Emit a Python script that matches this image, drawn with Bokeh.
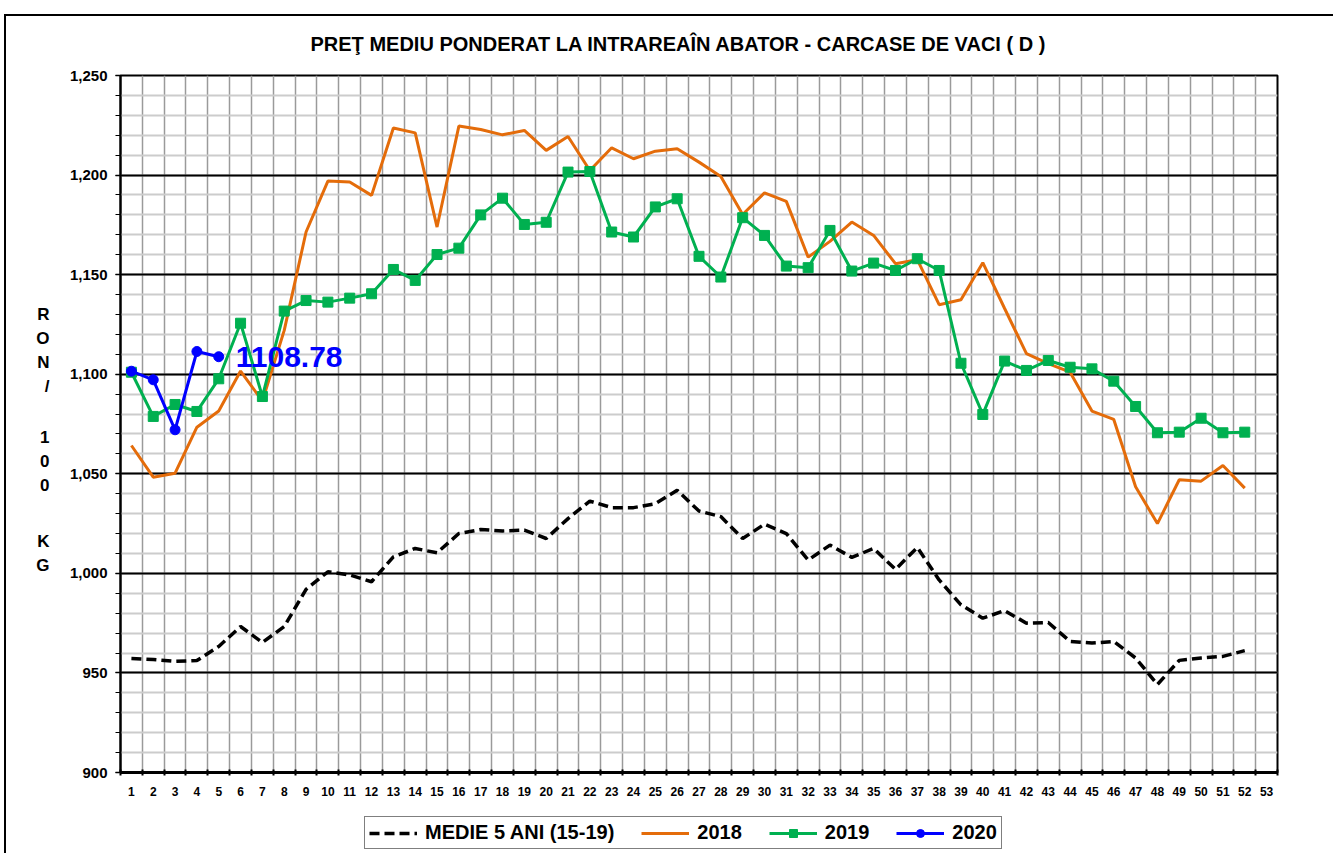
from bokeh.plotting import figure
from bokeh.layouts import column
from bokeh.models import (Range1d, FixedTicker, NumeralTickFormatter, Legend, LegendItem, Label,
                          LinearAxis)
from bokeh.embed import file_html
from bokeh.resources import INLINE

# ---------------- data ----------------
weeks = list(range(1, 53))
weeks_2020 = [1, 2, 3, 4, 5]
x_tick_labels = list(range(1, 54))

medie_5_ani = [957.2, 956.7, 955.8, 956.2, 963.3, 973.3, 965.3, 973.3, 992.0, 1000.8,
               999.2, 995.8, 1008.3, 1012.5, 1010.3, 1020.0, 1022.0, 1021.3, 1021.7, 1017.5,
               1027.5, 1036.3, 1033.0, 1033.0, 1035.0, 1041.7, 1031.3, 1028.5, 1017.5, 1024.7,
               1020.0, 1006.7, 1014.2, 1008.0, 1012.5, 1002.0, 1013.0, 996.7, 984.2, 977.5,
               981.3, 975.0, 975.3, 965.8, 965.0, 965.8, 957.5, 944.2, 956.3, 957.5, 958.3, 961.2]

y2018 = [1064.2, 1048.3, 1050.3, 1073.4, 1081.5, 1101.6, 1086.5, 1122.0, 1171.4, 1197.0,
         1196.5, 1189.8, 1223.6, 1221.2, 1173.9, 1224.6, 1222.9, 1220.2, 1222.4, 1212.4,
         1219.4, 1202.3, 1213.7, 1208.2, 1212.0, 1213.2, 1206.5, 1199.3, 1180.2, 1191.1,
         1186.8, 1158.8, 1166.7, 1176.4, 1169.7, 1155.5, 1157.5, 1134.9, 1137.4, 1156.0,
         1133.0, 1110.3, 1105.3, 1101.0, 1081.5, 1077.3, 1043.5, 1025.0, 1047.0, 1046.3, 1054.2, 1042.8]

y2019 = [1101.0, 1078.8, 1084.8, 1081.3, 1097.7, 1125.6, 1088.8, 1131.7, 1137.0, 1136.2,
         1138.2, 1140.4, 1152.6, 1147.1, 1160.1, 1163.3, 1180.0, 1188.4, 1175.2, 1176.3,
         1201.5, 1201.8, 1171.4, 1168.9, 1184.0, 1188.1, 1159.2, 1148.8, 1178.6, 1169.7,
         1154.3, 1153.5, 1172.2, 1151.8, 1155.8, 1152.1, 1158.0, 1152.1, 1105.5, 1079.8,
         1106.6, 1101.9, 1106.9, 1103.5, 1102.7, 1096.5, 1083.8, 1070.6, 1070.9, 1077.9, 1070.6, 1070.9]

y2020 = [1101.5, 1097.2, 1072.1, 1111.4, 1108.78]

series_names = ["MEDIE 5 ANI (15-19)", "2018", "2019", "2020"]
title_text = "PREŢ MEDIU PONDERAT LA INTRAREAÎN ABATOR - CARCASE DE VACI ( D )"
# stacked y-axis title "RON/ 100 KG", one character per line
y_title_chars = ["R", "O", "N", "/", "1", "0", "0", "K", "G"]
y_title_rows = [1130, 1118, 1106, 1094, 1068, 1056, 1044, 1016, 1004]

FONT = "Liberation Sans"
C_ORANGE = "#E46C0A"
C_GREEN = "#00B050"
C_BLUE = "#0000FF"

# ---------------- main figure ----------------
p = figure(width=1333, height=810, output_backend="svg", toolbar_location=None,
           x_range=Range1d(0.5, 53.5), y_range=Range1d(900, 1250),
           min_border_left=120, min_border_right=56, min_border_top=75, min_border_bottom=38)
p.background_fill_color = "white"
p.border_fill_alpha = 0
p.outline_line_color = "black"
p.outline_line_width = 2

# title
p.title.text = title_text
p.title.align = "left"
p.title.offset = 190
p.title.standoff = 42
p.title.text_font = FONT
p.title.text_font_style = "bold"
p.title.text_font_size = "20px"
p.title.text_color = "black"

# x axis
p.xaxis.ticker = FixedTicker(ticks=x_tick_labels, minor_ticks=[k + 0.5 for k in range(0, 54)])
p.xaxis.major_tick_line_color = None
p.xaxis.minor_tick_line_color = "black"
p.xaxis.minor_tick_line_width = 2
p.xaxis.minor_tick_in = 3
p.xaxis.minor_tick_out = 3
p.xaxis.axis_line_color = "black"
p.xaxis.axis_line_width = 3
p.xaxis.major_label_text_font = FONT
p.xaxis.major_label_text_font_style = "bold"
p.xaxis.major_label_text_font_size = "12px"
p.xaxis.major_label_text_color = "black"
p.xaxis.major_label_standoff = 8

# y axis
p.yaxis.ticker = FixedTicker(ticks=list(range(900, 1251, 50)), minor_ticks=list(range(900, 1251, 10)))
p.yaxis.formatter = NumeralTickFormatter(format="0,0")
p.yaxis.axis_line_color = "black"
p.yaxis.axis_line_width = 2
p.yaxis.major_tick_in = 0
p.yaxis.major_tick_out = 5
p.yaxis.minor_tick_in = 0
p.yaxis.minor_tick_out = 5
p.yaxis.major_tick_line_width = 1.5
p.yaxis.minor_tick_line_color = "black"
p.yaxis.major_label_text_font = FONT
p.yaxis.major_label_text_font_style = "bold"
p.yaxis.major_label_text_font_size = "15px"
p.yaxis.major_label_text_color = "black"
p.yaxis.major_label_standoff = 8

# stacked-letter y-axis title drawn as an extra, line-less axis
title_axis = LinearAxis(ticker=FixedTicker(ticks=y_title_rows, minor_ticks=[]),
                        major_label_overrides={r: c for r, c in zip(y_title_rows, y_title_chars)})
title_axis.axis_line_color = None
title_axis.major_tick_line_color = None
title_axis.minor_tick_line_color = None
title_axis.major_label_text_font = FONT
title_axis.major_label_text_font_style = "bold"
title_axis.major_label_text_font_size = "17px"
title_axis.major_label_text_color = "black"
title_axis.major_label_standoff = 11
p.add_layout(title_axis, "left")

# grids
p.xgrid.ticker = FixedTicker(ticks=[], minor_ticks=[k + 0.5 for k in range(0, 54)])
p.xgrid.grid_line_color = None
p.xgrid.minor_grid_line_color = "#9a9a9a"
p.xgrid.minor_grid_line_width = 1.5
p.ygrid.grid_line_color = "black"
p.ygrid.grid_line_width = 2
p.ygrid.minor_grid_line_color = "#cccccc"
p.ygrid.minor_grid_line_width = 2

# ---------------- series ----------------
p.line(weeks, medie_5_ani, line_color="black", line_width=3.5, line_dash="10 5")
p.line(weeks, y2018, line_color=C_ORANGE, line_width=3)
p.line(weeks, y2019, line_color=C_GREEN, line_width=3)
p.scatter(weeks, y2019, marker="square", size=10, fill_color=C_GREEN, line_color=C_GREEN)
p.line(weeks_2020, y2020, line_color=C_BLUE, line_width=3)
p.scatter(weeks_2020, y2020, marker="circle", size=10, fill_color=C_BLUE, line_color=C_BLUE)

# last value label
p.add_layout(Label(x=weeks_2020[-1], y=y2020[-1], text=f"{y2020[-1]:.2f}", x_offset=17,
                   text_baseline="middle", text_align="left", text_color=C_BLUE,
                   text_font=FONT, text_font_style="bold", text_font_size="30px"))

# ---------------- legend strip (separate figure so it is not clipped) ----------------
q = figure(width=1333, height=43, output_backend="svg", toolbar_location=None,
           x_range=Range1d(0, 1), y_range=Range1d(0, 1), x_axis_type=None, y_axis_type=None,
           min_border_left=0, min_border_right=0, min_border_top=0, min_border_bottom=0)
q.outline_line_color = None
q.background_fill_alpha = 0
q.border_fill_alpha = 0
q.grid.grid_line_color = None
# legend-only proxies, placed outside the strip's visible range
proxy_x = [-10, -9]
proxy_y = [-10, -10]
l_medie = q.line(proxy_x, proxy_y, line_color="black", line_width=3.5, line_dash="10 5")
l_2018 = q.line(proxy_x, proxy_y, line_color=C_ORANGE, line_width=3)
l_2019 = q.line(proxy_x, proxy_y, line_color=C_GREEN, line_width=3)
l_2019m = q.scatter(proxy_x, proxy_y, marker="square", size=10, fill_color=C_GREEN, line_color=C_GREEN)
l_2020 = q.line(proxy_x, proxy_y, line_color=C_BLUE, line_width=3)
l_2020m = q.scatter(proxy_x, proxy_y, marker="circle", size=10, fill_color=C_BLUE, line_color=C_BLUE)

legend = Legend(items=[
    LegendItem(label=series_names[0], renderers=[l_medie]),
    LegendItem(label=series_names[1], renderers=[l_2018]),
    LegendItem(label=series_names[2], renderers=[l_2019, l_2019m]),
    LegendItem(label=series_names[3], renderers=[l_2020, l_2020m]),
], orientation="horizontal", location=(244, 4))
legend.label_text_font = FONT
legend.label_text_font_style = "bold"
legend.label_text_font_size = "20px"
legend.label_text_color = "black"
legend.border_line_color = "black"
legend.border_line_width = 1
legend.background_fill_color = "white"
legend.background_fill_alpha = 1
legend.glyph_width = 48
legend.glyph_height = 20
legend.label_standoff = 8
legend.spacing = 27
legend.padding = 4
legend.margin = 0
q.add_layout(legend, "center")

layout = column(p, q, spacing=0)
layout.styles = {
    "background": "linear-gradient(#000,#000) 4px 14px / 2px 2000px no-repeat, "
                  "linear-gradient(#000,#000) 4px 14px / 3000px 2px no-repeat, white",
}

open("out.html", "w").write(file_html(layout, INLINE))
